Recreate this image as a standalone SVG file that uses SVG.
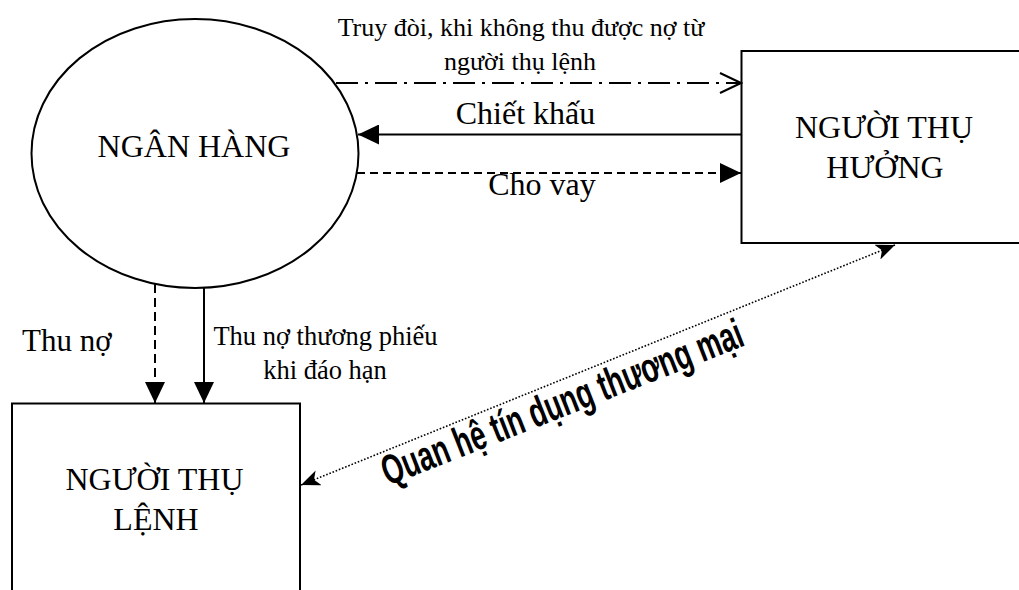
<svg xmlns="http://www.w3.org/2000/svg" width="1019" height="590" viewBox="0 0 1019 590">
<style>
.shape{fill:#fff;stroke:#000;stroke-width:2}
.t{font-family:"Liberation Serif","Times New Roman",serif;fill:#000}
.ln{fill:none;stroke:#000;stroke-width:2}
.big{font-size:32px}
</style>
<defs>
<marker id="tri" viewBox="0 0 21 20" refX="21" refY="10" markerWidth="21" markerHeight="20" markerUnits="userSpaceOnUse" orient="auto">
<path d="M0,0 L21,10 L0,20 z" fill="#000"/>
</marker>
<marker id="vee" viewBox="-1 -2 24 24" refX="21" refY="10" markerWidth="24" markerHeight="24" markerUnits="userSpaceOnUse" orient="auto">
<path d="M0,0 L21,10 L0,20" fill="none" stroke="#000" stroke-width="2"/>
</marker>
<marker id="stealth" viewBox="0 0 19 16" refX="19" refY="8" markerWidth="19" markerHeight="16" markerUnits="userSpaceOnUse" orient="auto-start-reverse">
<path d="M0,0 L19,8 L0,16 L5,8 z" fill="#000"/>
</marker>
</defs>

<g id="ngan-hang">
<ellipse class="shape" cx="195" cy="153.5" rx="163.5" ry="134.5"/>
<text class="t big" x="194" y="157" text-anchor="middle">NGÂN HÀNG</text>
</g>

<g id="nguoi-thu-huong">
<rect class="shape" x="741.5" y="51" width="290" height="192"/>
<text class="t big" x="884" y="138" text-anchor="middle">NGƯỜI THỤ</text>
<text class="t big" x="885" y="178" text-anchor="middle">HƯỞNG</text>
</g>

<g id="nguoi-thu-lenh">
<rect class="shape" x="12" y="403.5" width="288" height="200"/>
<text class="t big" x="154.5" y="490" text-anchor="middle">NGƯỜI THỤ</text>
<text class="t big" x="156" y="530" text-anchor="middle">LỆNH</text>
</g>

<g id="connectors">
<line class="ln" x1="336" y1="83" x2="741" y2="83" stroke-dasharray="22,7,3,7" marker-end="url(#vee)"/>
<line class="ln" x1="741" y1="134.5" x2="358" y2="134.5" marker-end="url(#tri)"/>
<line class="ln" x1="357" y1="173" x2="741" y2="173" stroke-dasharray="8,5" marker-end="url(#tri)"/>
<line class="ln" x1="155" y1="284" x2="155" y2="403" stroke-dasharray="9,5" marker-end="url(#tri)"/>
<line class="ln" x1="204" y1="288" x2="204" y2="403" marker-end="url(#tri)"/>
<line x1="301" y1="485" x2="895" y2="245" stroke="#000" stroke-width="1.6" stroke-dasharray="1.6,1.8" fill="none" marker-start="url(#stealth)" marker-end="url(#stealth)"/>
</g>

<g id="labels">
<text class="t" x="521" y="36" font-size="26" text-anchor="middle">Truy đòi, khi không thu được nợ từ</text>
<text class="t" x="520" y="70" font-size="26" text-anchor="middle">người thụ lệnh</text>
<text class="t big" x="525.5" y="124" text-anchor="middle">Chiết khấu</text>
<text class="t big" x="542" y="195" text-anchor="middle">Cho vay</text>
<text class="t" x="22" y="351" font-size="31">Thu nợ</text>
<text class="t" x="325.5" y="345" font-size="26.5" text-anchor="middle">Thu nợ thương phiếu</text>
<text class="t" x="325" y="379" font-size="26.5" text-anchor="middle">khi đáo hạn</text>
<text transform="translate(388,486) rotate(-21.5)" font-family="'Liberation Sans Narrow','Liberation Sans',Arial,sans-serif" font-weight="bold" font-size="42" textLength="385" lengthAdjust="spacingAndGlyphs" fill="#000">Quan hệ tín dụng thương mại</text>
</g>
</svg>
